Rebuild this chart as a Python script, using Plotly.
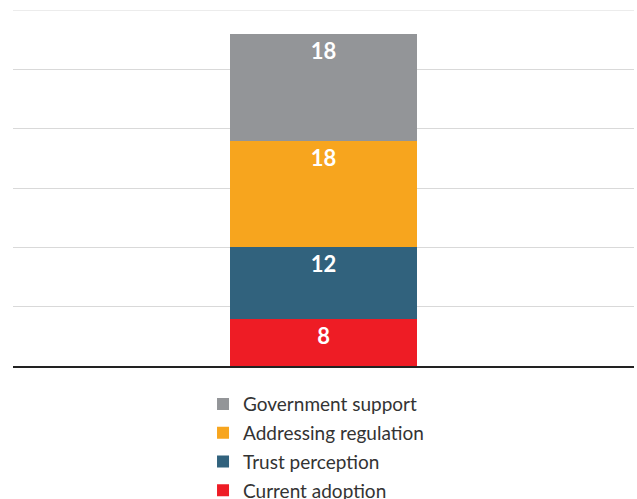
import plotly.graph_objects as go

# Stacked composition shown in a single column
category = ["Total"]
series_names = ["Current adoption", "Trust perception", "Addressing regulation", "Government support"]
series_values = [8, 12, 18, 18]
series_colors = ["#EE1C25", "#31627D", "#F7A51E", "#939598"]
y_max = 60
grid_step = 10

fig = go.Figure()
n = len(series_names)
for i, (name, val, color) in enumerate(zip(series_names, series_values, series_colors)):
    fig.add_trace(go.Bar(
        x=category,
        y=[val],
        name=name,
        legendgroup=name,
        legendrank=n - i,  # top segment listed first
        marker=dict(color=color, line=dict(width=0)),
        width=0.3,
        text=[str(val)],
        textposition="inside",
        insidetextanchor="end",
        textangle=0,
        textfont=dict(family="Lato", size=22, color="white", weight="bold"),
    ))

fig.update_layout(
    barmode="stack",
    width=637,
    height=499,
    margin=dict(l=13, r=3, t=10, b=133, autoexpand=False),
    paper_bgcolor="white",
    plot_bgcolor="white",
    font=dict(family="Lato", color="#333333"),
    showlegend=True,
    legend=dict(
        orientation="v",
        traceorder="grouped",
        tracegroupgap=1,
        x=0.306,
        xanchor="left",
        y=-0.054,
        yanchor="top",
        font=dict(size=19, color="#333333"),
        itemsizing="constant",
        bgcolor="rgba(0,0,0,0)",
    ),
    uniformtext=dict(mode="show", minsize=10),
)
# gridline along the top edge of the value range
fig.add_shape(type="line", xref="paper", x0=0, x1=1, yref="y", y0=y_max, y1=y_max,
              line=dict(color="#d9d9d9", width=1), layer="below")
fig.update_xaxes(showticklabels=False, showgrid=False, zeroline=False,
                 showline=True, linecolor="#222222", linewidth=2, ticks="")
fig.update_yaxes(range=[0, y_max], dtick=grid_step,
                 showticklabels=False, showgrid=True, gridcolor="#d9d9d9",
                 gridwidth=1, zeroline=False, showline=False, ticks="")

fig.write_html("out.html")
